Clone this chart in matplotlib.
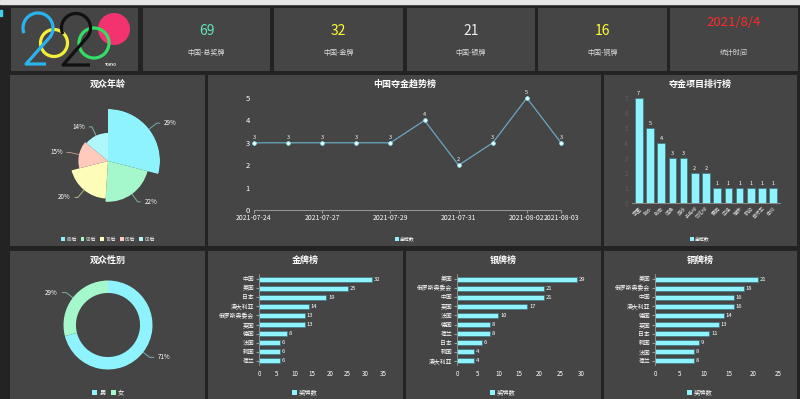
import numpy as np
import matplotlib.pyplot as plt
from matplotlib.patches import Rectangle, Circle, Patch

plt.rcParams['font.family'] = ['Noto Sans CJK SC', 'DejaVu Sans']

W, H = 800, 399
BG = '#232323'
PANEL = '#464545'
CYAN = '#8ef3fd'
BAR_EDGE = '#3c7480'

# ---- data ----
summary_values = ['69', '32', '21', '16']
summary_labels = ['中国-总奖牌', '中国-金牌', '中国-银牌', '中国-铜牌']
stat_date = '2021/8/4'

age_groups = ['80后', '90后', '70后', '60后', '00后']
age_share = [29, 22, 20, 15, 14]

gender = ['男', '女']
gender_share = [71, 29]

trend_dates = ['2021-07-24', '2021-07-25', '2021-07-27', '2021-07-28', '2021-07-29',
               '2021-07-30', '2021-07-31', '2021-08-01', '2021-08-02', '2021-08-03']
trend_golds = [3, 3, 3, 3, 3, 4, 2, 3, 5, 3]
trend_shown = ['2021-07-24', '2021-07-27', '2021-07-29', '2021-07-31', '2021-08-02', '2021-08-03']

events = ['举重', '跳水', '射击', '体操', '游泳', '乒乓球', '羽毛球',
          '赛艇', '田径', '蹦床', '帆船', '自行车', '击剑']
event_golds = [7, 5, 4, 3, 3, 2, 2, 1, 1, 1, 1, 1, 1]

gold_countries = ['中国', '美国', '日本', '澳大利亚', '俄罗斯奥委会', '英国', '德国', '法国', '韩国', '荷兰']
gold_counts = [32, 25, 19, 14, 13, 13, 8, 6, 6, 6]
silver_countries = ['美国', '俄罗斯奥委会', '中国', '英国', '法国', '德国', '荷兰', '日本', '韩国', '澳大利亚']
silver_counts = [29, 21, 21, 17, 10, 8, 8, 6, 4, 4]
bronze_countries = ['美国', '俄罗斯奥委会', '中国', '澳大利亚', '德国', '英国', '日本', '韩国', '法国', '荷兰']
bronze_counts = [21, 18, 16, 16, 14, 13, 11, 9, 8, 8]

fig = plt.figure(figsize=(W / 100, H / 100), dpi=100, facecolor=BG)


def px_axes(x0, y0, x1, y1, **kw):
    return fig.add_axes([x0 / W, 1 - y1 / H, (x1 - x0) / W, (y1 - y0) / H], **kw)


def small_legend(cx, cy, labels, colors, fs):
    handles = [Patch(facecolor=c, edgecolor='none') for c in colors]
    fig.legend(handles, labels, loc='center', bbox_to_anchor=(cx / W, 1 - cy / H),
               ncol=len(labels), frameon=False, fontsize=fs, labelcolor='white',
               handlelength=0.8, handleheight=0.8, handletextpad=0.3,
               columnspacing=0.8, borderpad=0)


def leader_label(ax, xy, disp_deg, text, color, d=6, s=4, fs=4.5):
    a = np.radians(disp_deg)
    side = 1 if np.cos(a) >= 0 else -1
    dx = d * np.cos(a) + s * side
    dy = d * np.sin(a)
    ax.annotate(text, xy=xy, xytext=(dx, dy), textcoords='offset points',
                ha='left' if side > 0 else 'right', va='center',
                fontsize=fs, color='white',
                arrowprops=dict(arrowstyle='-', color=color, alpha=0.6, lw=0.7,
                                shrinkA=1, shrinkB=0,
                                connectionstyle=f'angle,angleA=0,angleB={disp_deg},rad=0'))


# ---- background panels ----
base = px_axes(0, 0, W, H)
base.set_xlim(0, W)
base.set_ylim(H, 0)
base.axis('off')
base.add_patch(Rectangle((0, 0), W, 3.5, color='#e6e6e6'))
base.add_patch(Rectangle((0, 10), 2, 6, color='#3fd0f0'))

top_boxes = [(11, 8, 138, 71), (143, 8, 270, 71), (274, 8, 403, 71),
             (407, 8, 535, 71), (538, 8, 667, 71), (670, 8, 798, 71)]
mid_boxes = [(10, 75, 205, 246), (208, 75, 601, 246), (604, 75, 797, 246)]
bot_boxes = [(10, 251, 205, 399), (208, 251, 403, 399), (406, 251, 601, 399), (604, 251, 797, 399)]
for x0, y0, x1, y1 in top_boxes + mid_boxes + bot_boxes:
    base.add_patch(Rectangle((x0, y0), x1 - x0, y1 - y0, color=PANEL, lw=0))

# ---- logo ----
t = np.radians(np.linspace(200, -45, 80))
bx, by = 38 + 15 * np.cos(t), 28 - 15 * np.sin(t)
base.plot(list(bx) + [26, 46], list(by) + [64, 64], color='#2ab4ef', lw=2.3, solid_capstyle='butt')
t2 = np.radians(np.linspace(205, -45, 80))
kx, ky = 76 + 14.5 * np.cos(t2), 28 - 14.5 * np.sin(t2)
base.plot(list(kx) + [63, 90], list(ky) + [65, 65], color='#111111', lw=2.3, solid_capstyle='butt')
base.add_patch(Circle((54, 43), 13.5, fill=False, ec='#f3ee3a', lw=2.3))
base.add_patch(Circle((114, 29), 16, color='#f3336f', lw=0))
base.add_patch(Circle((94, 43), 15, fill=False, ec='#33dd66', lw=2.3))
base.text(111, 64.5, 'TOKYO', fontsize=2.5, color='white', ha='center', va='center', fontweight='bold')

# ---- summary numbers ----
num_colors = ['#5de8b4', '#ffff33', '#eeeeee', '#ffff33']
for (x0, y0, x1, y1), v, lab, c in zip(top_boxes[1:5], summary_values, summary_labels, num_colors):
    cx = (x0 + x1) / 2
    base.text(cx, 31, v, fontsize=10, color=c, ha='center', va='center')
    base.text(cx, 53, lab, fontsize=5, color='#dddddd', ha='center', va='center')
x0, y0, x1, y1 = top_boxes[5]
base.text((x0 + x1) / 2, 22, stat_date, fontsize=9.5, color='#ff2b2b', ha='center', va='center')
base.text((x0 + x1) / 2, 53, '统计时间', fontsize=5, color='#dddddd', ha='center', va='center')

# ---- titles ----
titles = [('观众年龄', 108, 84), ('中国夺金趋势榜', 405, 84), ('夺金项目排行榜', 700, 84),
          ('观众性别', 108, 260), ('金牌榜', 305, 260), ('银牌榜', 503, 260), ('铜牌榜', 700, 260)]
for txt, x, y in titles:
    base.text(x, y, txt, fontsize=6.5, color='white', fontweight='bold', ha='center', va='center')

# ---- age rose chart ----
age_colors = ['#8ef3fd', '#a5f7cc', '#fdfdb9', '#ffc9bc', '#aef8fc']
ax = px_axes(56, 109, 160, 213, projection='polar')
ax.set_theta_zero_location('N')
ax.set_theta_direction(-1)
share = np.array(age_share, dtype=float)
widths = share / share.sum() * 2 * np.pi
lefts = np.cumsum(widths) - widths
ROFF = 3.5
ax.bar(lefts, share + ROFF, width=widths, bottom=-ROFF, align='edge', color=age_colors, edgecolor='none')
ax.set_ylim(-ROFF, share.max())
ax.axis('off')
for l, w, v, c in zip(lefts, widths, age_share, age_colors):
    mid = l + w / 2
    leader_label(ax, (mid, v), 90 - np.degrees(mid), f'{v}%', c, d=7, s=5)
small_legend(108, 239, age_groups, age_colors, 3.5)

# ---- gender donut ----
g_colors = [CYAN, '#a5f7cc']
ax = px_axes(63.5, 280.5, 152.5, 369.5)
ax.pie(gender_share, colors=g_colors, startangle=90, counterclock=False, radius=1,
       wedgeprops=dict(width=0.28, edgecolor='none'))
ax.set_xlim(-1, 1)
ax.set_ylim(-1, 1)
cum = 0
for v, c in zip(gender_share, g_colors):
    mid = (cum + v / 2) / sum(gender_share) * 360
    cum += v
    a = 90 - mid
    leader_label(ax, (np.cos(np.radians(a)), np.sin(np.radians(a))), a, f'{v}%', c, d=6, s=6)
small_legend(108, 393, gender, g_colors, 4.5)

# ---- gold trend line ----
ax = px_axes(254, 98, 561, 210)
ax.set_facecolor('none')
xs = np.arange(len(trend_golds))
ax.plot(xs, trend_golds, color='#6aa6c4', lw=0.9, marker='o', ms=2.6,
        mfc='white', mec=CYAN, mew=0.6, clip_on=False, zorder=3)
for x, v in zip(xs, trend_golds):
    ax.text(x, v + 0.13, str(v), fontsize=4, color='white', ha='center', va='bottom')
ax.set_xlim(0, len(trend_golds) - 1)
ax.set_ylim(0, 5)
ax.set_yticks(range(6))
ax.set_xticks([trend_dates.index(d) for d in trend_shown])
ax.set_xticklabels(trend_shown)
ax.tick_params(axis='y', length=0, labelsize=5.5, labelcolor='white', pad=3)
ax.tick_params(axis='x', length=2, color='#999999', labelsize=4.9, labelcolor='white', pad=1)
for s in ['top', 'right', 'left']:
    ax.spines[s].set_visible(False)
ax.spines['bottom'].set_color('#999999')
ax.spines['bottom'].set_linewidth(0.7)
small_legend(405, 239, ['金牌数'], [CYAN], 3.5)

# ---- event ranking bars ----
ax = px_axes(632, 98, 780, 203)
ax.set_facecolor('none')
xs = np.arange(len(events))
ax.bar(xs, event_golds, width=0.68, color=CYAN, edgecolor=BAR_EDGE, linewidth=0.5)
for x, v in zip(xs, event_golds):
    ax.text(x, v + 0.12, str(v), fontsize=4, color='white', ha='center', va='bottom')
ax.set_xlim(-0.6, len(events) - 0.4)
ax.set_ylim(0, 7)
ax.set_xticks(xs)
ax.set_xticklabels(events, rotation=45, ha='right', rotation_mode='anchor')
ax.tick_params(axis='x', length=0, labelsize=3.6, labelcolor='#dddddd', pad=2)
ax.tick_params(axis='y', length=0, labelsize=4.5, labelcolor='#5e5e5e', pad=3)
for s in ['top', 'right', 'left']:
    ax.spines[s].set_visible(False)
ax.spines['bottom'].set_color('#999999')
ax.spines['bottom'].set_linewidth(0.6)
small_legend(700, 239, ['金牌数'], [CYAN], 3.5)


# ---- medal tables ----
def medal_bars(x0, x1, cats, vals, xmax, cx):
    ax = px_axes(x0, 274.5, x1, 365.5)
    ax.set_facecolor('none')
    ys = np.arange(len(cats))
    ax.barh(ys, vals, height=0.55, color=CYAN, edgecolor=BAR_EDGE, linewidth=0.5)
    for y, v in zip(ys, vals):
        ax.text(v + xmax * 0.015, y, str(v), fontsize=4.2, color='white', ha='left', va='center')
    ax.set_xlim(0, xmax)
    ax.set_ylim(len(cats) - 0.5, -0.5)
    ax.set_yticks(ys)
    ax.set_yticklabels(cats)
    ax.set_xticks(range(0, xmax + 1, 5))
    ax.tick_params(axis='y', length=2, color='#999999', labelsize=4.2, labelcolor='white', pad=1.5)
    ax.tick_params(axis='x', length=0, labelsize=4.5, labelcolor='white', pad=3)
    for s in ['top', 'right', 'bottom']:
        ax.spines[s].set_visible(False)
    ax.spines['left'].set_color('#999999')
    ax.spines['left'].set_linewidth(0.6)
    small_legend(cx, 393, ['奖牌数'], [CYAN], 4.5)


medal_bars(259, 383, gold_countries, gold_counts, 35, 305)
medal_bars(457, 581, silver_countries, silver_counts, 30, 503)
medal_bars(655, 778, bronze_countries, bronze_counts, 25, 700)

fig.savefig('out.png', dpi=100, facecolor=BG)
